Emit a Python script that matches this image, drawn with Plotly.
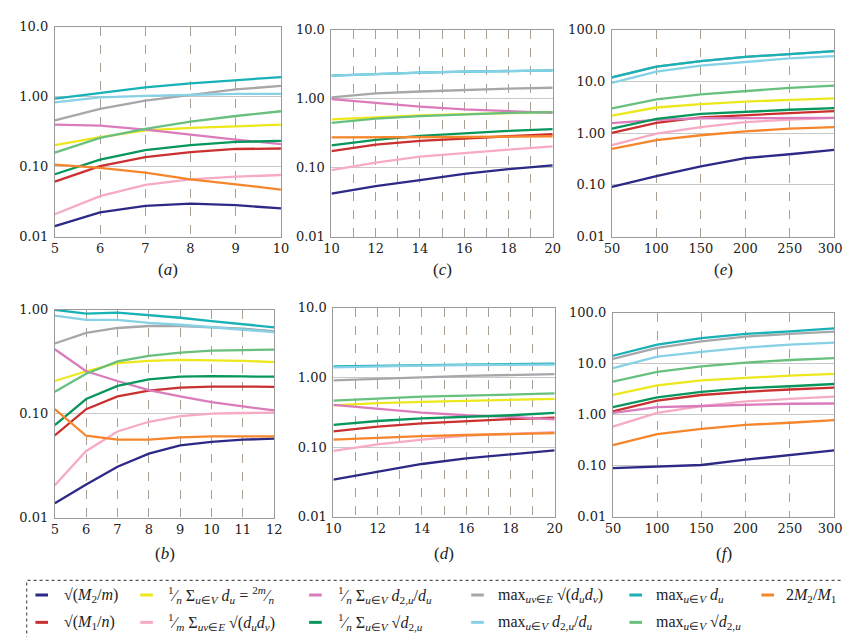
import math
import plotly.graph_objects as go

# ---------------- data ----------------
KEYS = ["m2m", "m1n", "avgdeg", "avg_sqrt_e", "avg_d2d", "avg_sqrt_d2",
        "max_sqrt_e", "maxdeg", "max_d2d", "max_sqrt_d2", "m2m1"]

COLORS = {
    "m2m": "#2c2a86", "m1n": "#cb3030", "avgdeg": "#ece81c", "avg_sqrt_e": "#f6aac3",
    "avg_d2d": "#da7cbc", "avg_sqrt_d2": "#07975c", "max_sqrt_e": "#a7a7aa",
    "maxdeg": "#17b1b6", "max_d2d": "#86d1e6", "max_sqrt_d2": "#68c07f", "m2m1": "#f5862c",
}

x_a = [5, 6, 7, 8, 9, 10]
x_b = [5, 6, 7, 8, 9, 10, 11, 12]
x_c = [10, 12, 14, 16, 18, 20]
x_d = [10, 12, 14, 16, 18, 20]
x_e = [50, 100, 150, 200, 250, 300]
x_f = [50, 100, 150, 200, 250, 300]

vals_a = {
    "m2m": [0.0141, 0.0223, 0.0276, 0.0297, 0.0282, 0.0253],
    "m1n": [0.061, 0.102, 0.137, 0.161, 0.179, 0.182],
    "avgdeg": [0.203, 0.265, 0.33, 0.358, 0.377, 0.398],
    "avg_sqrt_e": [0.0209, 0.038, 0.055, 0.066, 0.072, 0.076],
    "avg_d2d": [0.398, 0.385, 0.339, 0.286, 0.244, 0.21],
    "avg_sqrt_d2": [0.078, 0.126, 0.173, 0.203, 0.226, 0.233],
    "max_sqrt_e": [0.46, 0.67, 0.88, 1.06, 1.27, 1.43],
    "maxdeg": [0.94, 1.12, 1.36, 1.55, 1.72, 1.91],
    "max_d2d": [0.83, 0.975, 1.03, 1.06, 1.10, 1.10],
    "max_sqrt_d2": [0.159, 0.257, 0.347, 0.44, 0.53, 0.62],
    "m2m1": [0.107, 0.096, 0.082, 0.066, 0.056, 0.047],
}
vals_b = {
    "m2m": [0.0138, 0.0209, 0.031, 0.0415, 0.0497, 0.0537, 0.0565, 0.0578],
    "m1n": [0.062, 0.111, 0.147, 0.167, 0.179, 0.183, 0.183, 0.182],
    "avgdeg": [0.207, 0.257, 0.308, 0.324, 0.331, 0.329, 0.324, 0.315],
    "avg_sqrt_e": [0.0206, 0.044, 0.0677, 0.084, 0.095, 0.1007, 0.102, 0.103],
    "avg_d2d": [0.418, 0.257, 0.207, 0.169, 0.147, 0.130, 0.118, 0.108],
    "avg_sqrt_d2": [0.078, 0.139, 0.186, 0.215, 0.228, 0.231, 0.229, 0.228],
    "max_sqrt_e": [0.475, 0.60, 0.67, 0.70, 0.70, 0.68, 0.66, 0.625],
    "maxdeg": [1.0, 0.92, 0.94, 0.89, 0.84, 0.78, 0.73, 0.68],
    "max_d2d": [0.88, 0.80, 0.80, 0.75, 0.72, 0.68, 0.65, 0.61],
    "max_sqrt_d2": [0.163, 0.243, 0.32, 0.361, 0.388, 0.406, 0.411, 0.415],
    "m2m1": [0.111, 0.0616, 0.0565, 0.0565, 0.0594, 0.0608, 0.0608, 0.0608],
}
vals_c = {
    "m2m": [0.042, 0.054, 0.066, 0.081, 0.095, 0.108],
    "m1n": [0.173, 0.215, 0.245, 0.267, 0.285, 0.305],
    "avgdeg": [0.502, 0.542, 0.573, 0.598, 0.618, 0.638],
    "avg_sqrt_e": [0.092, 0.118, 0.144, 0.164, 0.183, 0.204],
    "avg_d2d": [0.985, 0.865, 0.767, 0.697, 0.652, 0.624],
    "avg_sqrt_d2": [0.21, 0.253, 0.288, 0.315, 0.34, 0.362],
    "max_sqrt_e": [1.04, 1.19, 1.27, 1.34, 1.40, 1.44],
    "maxdeg": [2.16, 2.28, 2.38, 2.46, 2.51, 2.57],
    "max_d2d": [2.16, 2.28, 2.38, 2.46, 2.51, 2.57],
    "max_sqrt_d2": [0.446, 0.513, 0.560, 0.598, 0.624, 0.638],
    "m2m1": [0.274, 0.274, 0.276, 0.278, 0.282, 0.285],
}
vals_d = {
    "m2m": [0.0344, 0.045, 0.0575, 0.069, 0.0794, 0.0904],
    "m1n": [0.169, 0.198, 0.22, 0.238, 0.253, 0.265],
    "avgdeg": [0.398, 0.43, 0.448, 0.463, 0.478, 0.494],
    "avg_sqrt_e": [0.0886, 0.11, 0.129, 0.147, 0.156, 0.165],
    "avg_d2d": [0.406, 0.357, 0.314, 0.288, 0.273, 0.251],
    "avg_sqrt_d2": [0.209, 0.238, 0.259, 0.273, 0.288, 0.311],
    "max_sqrt_e": [0.91, 0.97, 1.01, 1.06, 1.08, 1.12],
    "maxdeg": [1.45, 1.49, 1.52, 1.54, 1.56, 1.58],
    "max_d2d": [1.40, 1.45, 1.49, 1.51, 1.52, 1.54],
    "max_sqrt_d2": [0.468, 0.504, 0.532, 0.55, 0.568, 0.593],
    "m2m1": [0.129, 0.137, 0.144, 0.150, 0.155, 0.160],
}
vals_e = {
    "m2m": [0.0914, 0.148, 0.229, 0.329, 0.391, 0.473],
    "m1n": [1.01, 1.58, 2.02, 2.24, 2.45, 2.67],
    "avgdeg": [2.18, 3.13, 3.63, 4.07, 4.38, 4.71],
    "avg_sqrt_e": [0.587, 0.98, 1.31, 1.63, 1.83, 1.97],
    "avg_d2d": [1.56, 1.80, 1.94, 1.97, 1.97, 1.97],
    "avg_sqrt_d2": [1.22, 1.88, 2.35, 2.59, 2.83, 3.04],
    "max_sqrt_e": [11.9, 19.3, 24.7, 29.9, 33.6, 38.3],
    "maxdeg": [11.9, 19.3, 24.7, 29.9, 33.6, 38.3],
    "max_d2d": [9.33, 15.5, 20.2, 24.0, 27.8, 30.8],
    "max_sqrt_d2": [3.0, 4.5, 5.6, 6.5, 7.5, 8.3],
    "m2m1": [0.494, 0.731, 0.91, 1.08, 1.22, 1.31],
}
vals_f = {
    "m2m": [0.090, 0.097, 0.104, 0.132, 0.165, 0.202],
    "m1n": [1.17, 1.91, 2.45, 2.83, 3.14, 3.43],
    "avgdeg": [2.45, 3.80, 4.73, 5.32, 5.90, 6.35],
    "avg_sqrt_e": [0.59, 1.09, 1.49, 1.83, 2.05, 2.28],
    "avg_d2d": [1.09, 1.42, 1.49, 1.58, 1.65, 1.67],
    "avg_sqrt_d2": [1.42, 2.21, 2.83, 3.33, 3.64, 4.03],
    "max_sqrt_e": [12.5, 20.5, 27.5, 34.3, 38.5, 42.8],
    "maxdeg": [14.4, 23.8, 31.8, 38.5, 43.4, 49.4],
    "max_d2d": [8.27, 13.8, 17.2, 20.8, 23.8, 26.0],
    "max_sqrt_d2": [4.46, 6.93, 8.89, 10.6, 11.9, 13.0],
    "m2m1": [0.256, 0.42, 0.53, 0.635, 0.70, 0.79],
}

LEGEND_TEXT = {
    "m2m": "√(<i>M</i><sub>2</sub>/<i>m</i>)",
    "avgdeg": "<sup>1</sup>⁄<sub><i>n</i></sub> Σ<sub><i>u</i>∈<i>V</i></sub> <i>d<sub>u</sub></i> = <sup>2<i>m</i></sup>⁄<sub><i>n</i></sub>",
    "avg_d2d": "<sup>1</sup>⁄<sub><i>n</i></sub> Σ<sub><i>u</i>∈<i>V</i></sub> <i>d</i><sub>2,<i>u</i></sub>/<i>d<sub>u</sub></i>",
    "max_sqrt_e": "max<sub><i>uv</i>∈<i>E</i></sub> √(<i>d<sub>u</sub>d<sub>v</sub></i>)",
    "maxdeg": "max<sub><i>u</i>∈<i>V</i></sub> <i>d<sub>u</sub></i>",
    "m2m1": "2<i>M</i><sub>2</sub>/<i>M</i><sub>1</sub>",
    "m1n": "√(<i>M</i><sub>1</sub>/<i>n</i>)",
    "avg_sqrt_e": "<sup>1</sup>⁄<sub><i>m</i></sub> Σ<sub><i>uv</i>∈<i>E</i></sub> √(<i>d<sub>u</sub>d<sub>v</sub></i>)",
    "avg_sqrt_d2": "<sup>1</sup>⁄<sub><i>n</i></sub> Σ<sub><i>u</i>∈<i>V</i></sub> √<i>d</i><sub>2,<i>u</i></sub>",
    "max_d2d": "max<sub><i>u</i>∈<i>V</i></sub> <i>d</i><sub>2,<i>u</i></sub>/<i>d<sub>u</sub></i>",
    "max_sqrt_d2": "max<sub><i>u</i>∈<i>V</i></sub> √<i>d</i><sub>2,<i>u</i></sub>",
}

# ---------------- layout helpers ----------------
W, H = 850, 637
TICKFONT = "DejaVu Serif"
CAPFONT = "Liberation Serif"
LEGFONT = "Times New Roman"

def px_x(p):
    return p / W

def px_y(p):
    return 1 - p / H

panels = [
    ("a", x_a, vals_a, (40, 273), (12, 227), [-2, 1], list(range(5, 11)), None),
    ("c", x_c, vals_c, (325, 553), (15, 227), [-2, 1], list(range(10, 21, 2)), 1),
    ("e", x_e, vals_e, (614, 843), (15, 227), [-2, 2], list(range(50, 301, 50)), None),
    ("b", x_b, vals_b, (40, 266), (302, 515), [-2, 0], list(range(5, 13)), None),
    ("d", x_d, vals_d, (327, 555), (300, 514), [-2, 1], list(range(10, 21, 2)), 1),
    ("f", x_f, vals_f, (615, 843), (305, 514), [-2, 2], list(range(50, 301, 50)), None),
]

YLABELS = {0.01: "0.01", 0.1: "0.10", 1: "1.00", 10: "10.0", 100: "100.0"}

fig = go.Figure()
annotations = []
shapes = []

for i, (lab, xs, vals, (xl, xr), (yt, yb), yr, xticks, minor_step) in enumerate(panels):
    n = "" if i == 0 else str(i + 1)
    xref = "x" + n
    yref = "y" + n
    for k in KEYS:
        fig.add_trace(go.Scatter(
            x=xs, y=vals[k], mode="lines", xaxis=xref, yaxis=yref,
            line=dict(color=COLORS[k], width=2.3), showlegend=False,
            hoverinfo="skip"))
    ticktext = [str(v) for v in xticks]
    if xticks[-1] == 300:
        ticktext[-1] = "300\u00a0\u00a0"
    yticks = [v for v in YLABELS if yr[0] <= math.log10(v) <= yr[1]]
    xax = dict(
        domain=[px_x(xl), px_x(xr)], anchor=yref, range=[xs[0], xs[-1]],
        tickvals=xticks, ticktext=ticktext, showgrid=True, gridcolor="#aa9f93",
        griddash="dash", gridwidth=1, showline=True, mirror=True,
        linecolor="#9a9a9a", linewidth=1, ticks="", zeroline=False,
        ticklabeloverflow="allow",
        tickfont=dict(family=TICKFONT, size=13, color="#222"),
    )
    if minor_step:
        xax["minor"] = dict(dtick=minor_step, tick0=xs[0], showgrid=True,
                            gridcolor="#aa9f93", griddash="dash", gridwidth=1, ticks="")
    fig.layout["xaxis" + n] = xax
    fig.layout["yaxis" + n] = dict(
        domain=[px_y(yb), px_y(yt)], anchor=xref, type="log", range=yr,
        tickvals=yticks, ticktext=[YLABELS[v] for v in yticks],
        showgrid=True, gridcolor="#c8c8c8", gridwidth=1, showline=True,
        mirror=True, linecolor="#9a9a9a", linewidth=1, ticks="",
        zeroline=False, ticklabelstandoff=3,
        tickfont=dict(family=TICKFONT, size=13, color="#222"),
    )
    cap_y = 261 if yt < 100 else 551
    annotations.append(dict(
        x=px_x((xl + xr) / 2), y=px_y(cap_y), xref="paper", yref="paper",
        text="(<i>%s</i>)" % lab, showarrow=False,
        font=dict(family=CAPFONT, size=17, color="#222"),
        xanchor="center", yanchor="middle"))

# ---------------- legend (manual) ----------------
legend_rows = [
    [("m2m", 20, 47), ("avgdeg", 128, 155), ("avg_d2d", 302, 330),
     ("max_sqrt_e", 469, 495), ("maxdeg", 632, 657), ("m2m1", 768, 791)],
    [("m1n", 20, 47), ("avg_sqrt_e", 128, 155), ("avg_sqrt_d2", 302, 330),
     ("max_d2d", 469, 495), ("max_sqrt_d2", 632, 657)],
]
row_y = [594, 622]
for r, row in enumerate(legend_rows):
    for k, mx, tx in row:
        shapes.append(dict(type="line", xref="paper", yref="paper",
                           x0=px_x(mx), x1=px_x(mx + 13), y0=px_y(row_y[r]), y1=px_y(row_y[r]),
                           line=dict(color=COLORS[k], width=3)))
        annotations.append(dict(
            x=px_x(tx), y=px_y(row_y[r]), xref="paper", yref="paper",
            text=LEGEND_TEXT[k], showarrow=False, xanchor="left", yanchor="middle",
            font=dict(family=LEGFONT, size=16, color="#222")))

shapes.append(dict(type="rect", xref="paper", yref="paper",
                   x0=px_x(11), x1=px_x(870), y0=px_y(645), y1=px_y(579),
                   line=dict(color="#555", width=1.2, dash="dot")))

fig.update_layout(
    width=W, height=H, margin=dict(l=0, r=0, t=0, b=0),
    paper_bgcolor="white", plot_bgcolor="white",
    annotations=annotations, shapes=shapes,
    font=dict(family=CAPFONT),
)

fig.write_html("out.html")
